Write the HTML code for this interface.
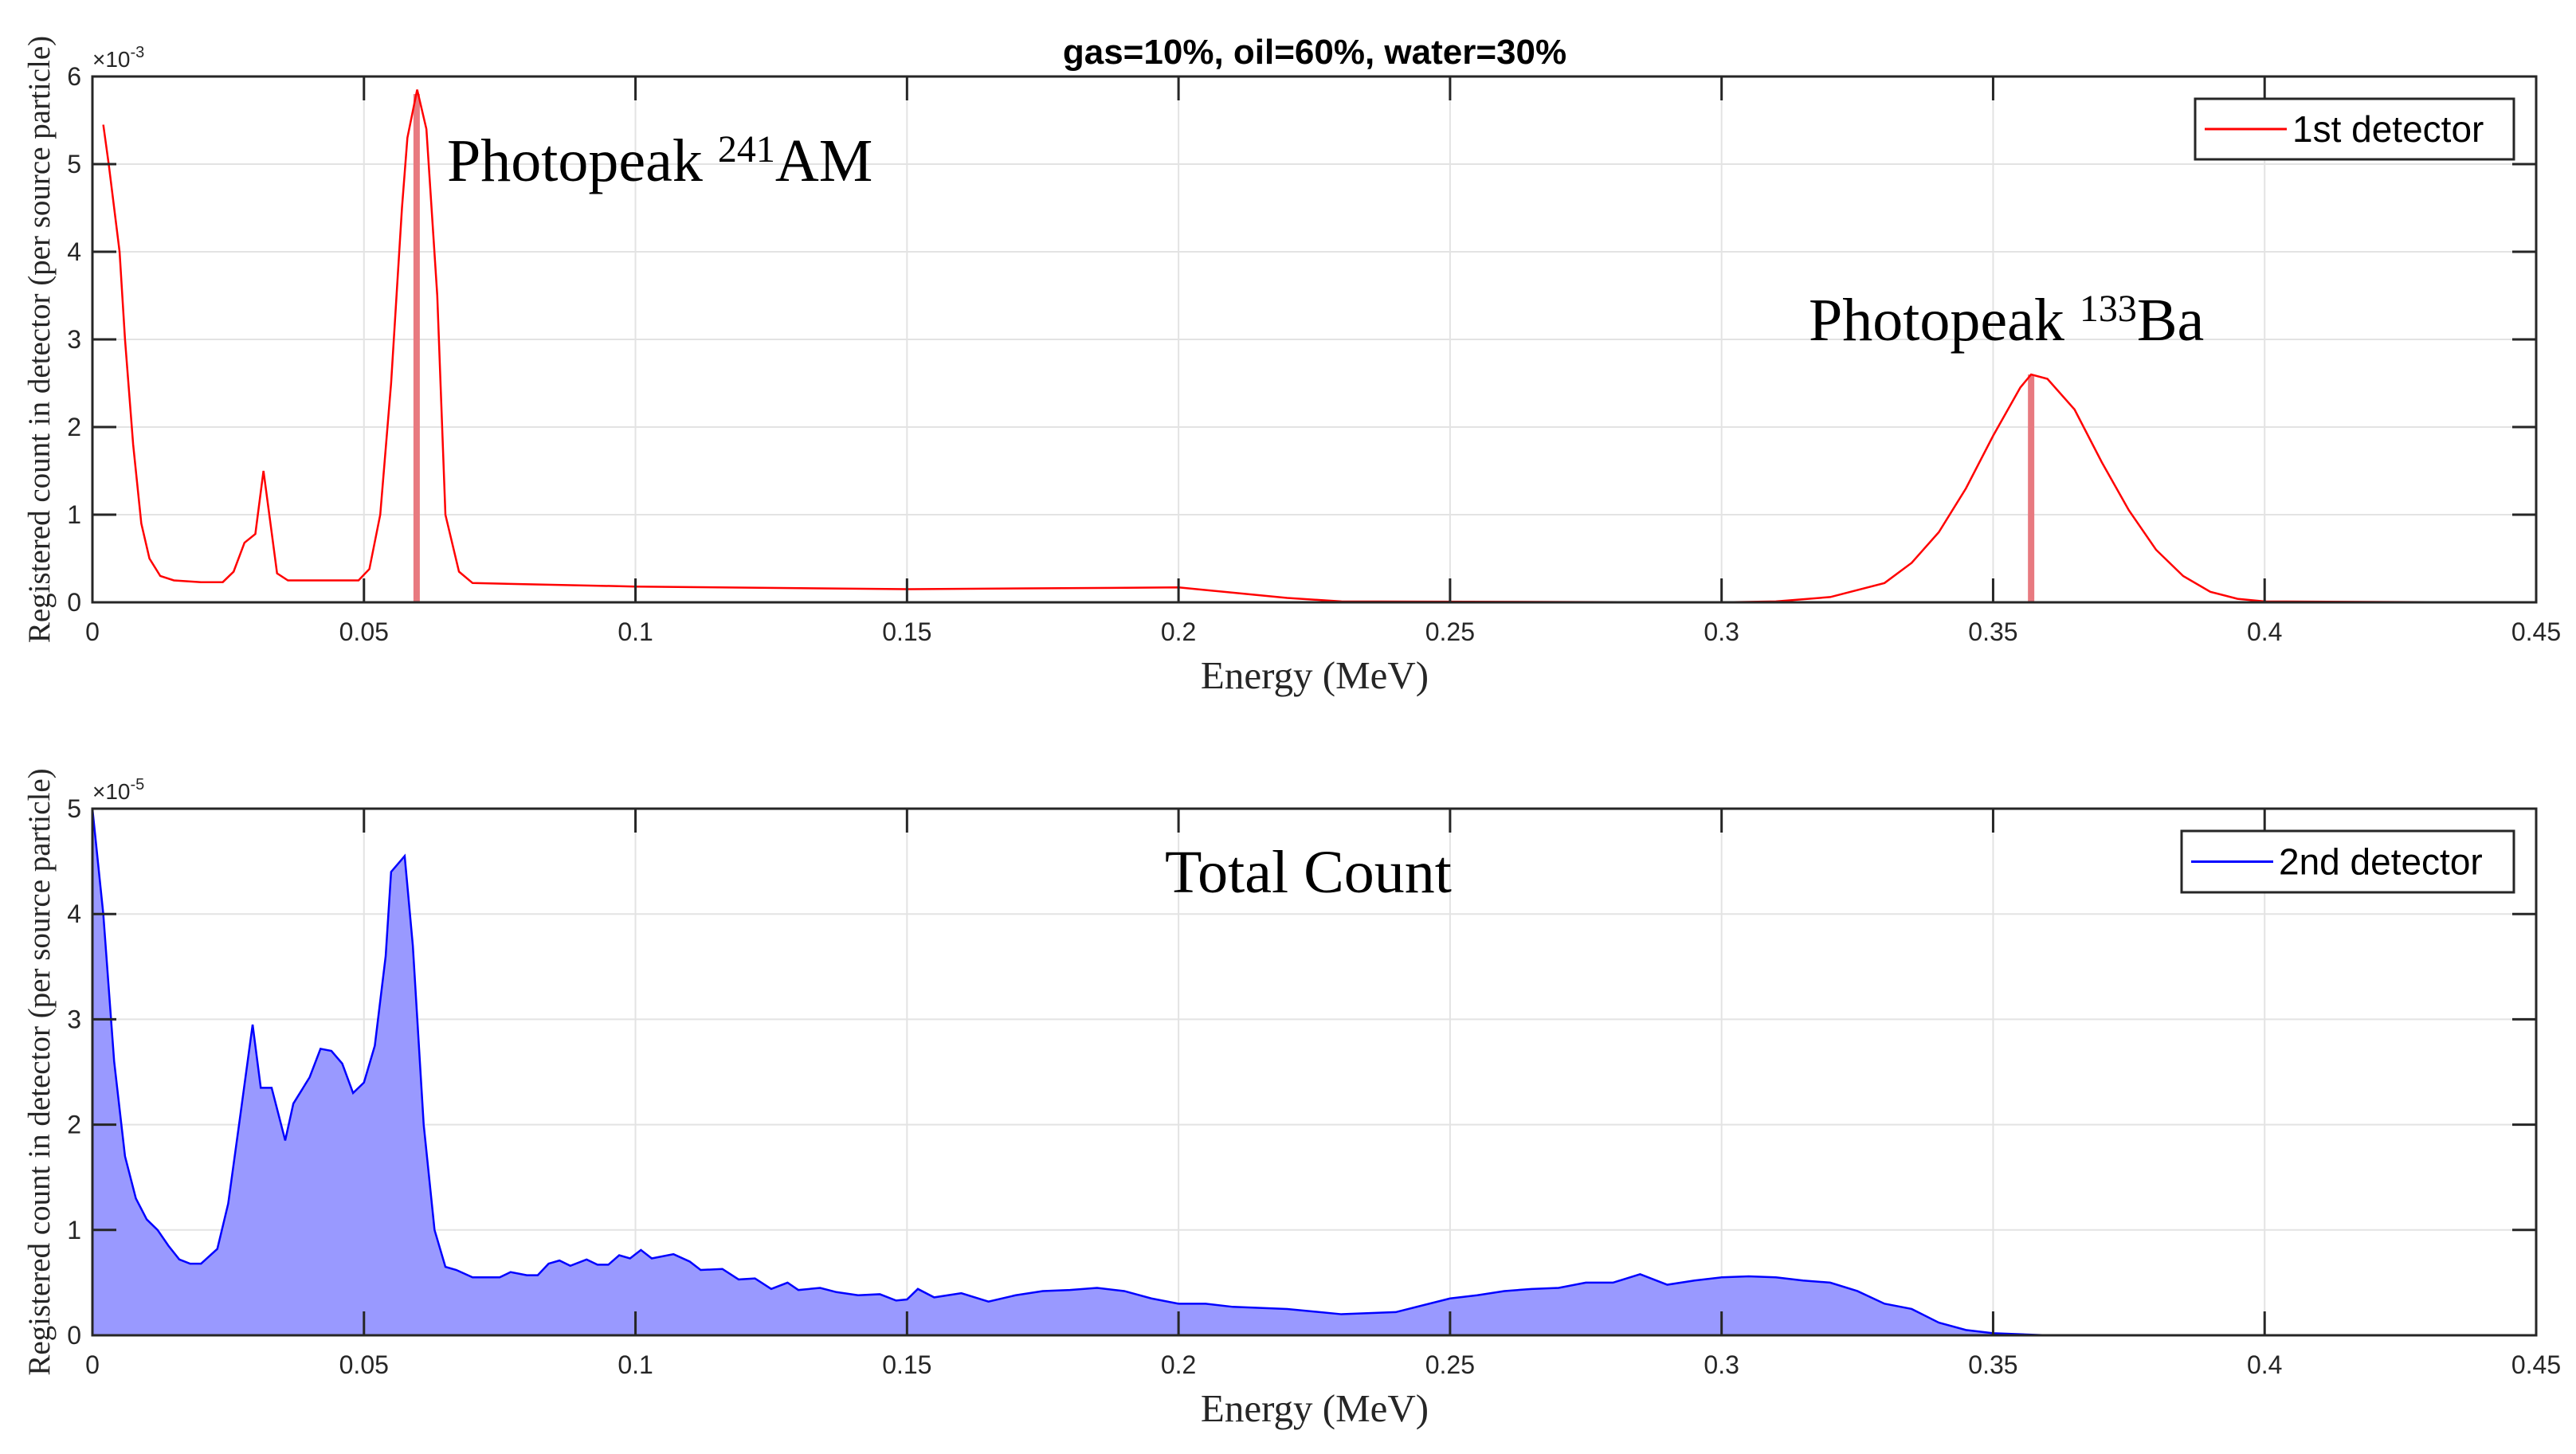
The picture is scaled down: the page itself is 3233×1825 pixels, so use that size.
<!DOCTYPE html>
<html><head><meta charset="utf-8"><style>
html,body{margin:0;padding:0;background:#fff;}
svg{display:block;}
</style></head><body>
<svg id="fig" width="3233" height="1825" viewBox="0 0 3233 1825" xmlns="http://www.w3.org/2000/svg">
<rect width="3233" height="1825" fill="#fff"/>
<text x="1650" y="80" text-anchor="middle" font-family="Liberation Sans, sans-serif" font-weight="bold" font-size="44" fill="#000">gas=10%, oil=60%, water=30%</text>
<g id="p1"></g><g id="p2"></g>
</svg>
<script>
const xTicks = [0,0.05,0.1,0.15,0.2,0.25,0.3,0.35,0.4,0.45];
const xTickLabels = ["0","0.05","0.1","0.15","0.2","0.25","0.3","0.35","0.4","0.45"];
const topYTicks = [0,1,2,3,4,5,6];
const botYTicks = [0,1,2,3,4,5];
const topEnergy = [0.002,0.003,0.005,0.006,0.0075,0.009,0.0105,0.0125,0.015,0.02,0.024,0.026,0.028,0.030,0.0315,0.033,0.034,0.036,0.045,0.049,0.051,0.053,0.055,0.057,0.058,0.0598,0.0615,0.0635,0.065,0.0675,0.070,0.1,0.15,0.2,0.22,0.23,0.3,0.31,0.32,0.33,0.335,0.34,0.345,0.35,0.355,0.357,0.36,0.365,0.37,0.375,0.38,0.385,0.39,0.395,0.4,0.44];
const topCount = [5.45,5.0,4.0,3.0,1.8,0.9,0.5,0.3,0.25,0.23,0.23,0.35,0.68,0.78,1.5,0.8,0.33,0.25,0.25,0.25,0.38,1.0,2.5,4.5,5.3,5.85,5.4,3.5,1.0,0.35,0.22,0.18,0.15,0.17,0.05,0.01,0.0,0.01,0.06,0.22,0.45,0.8,1.3,1.9,2.45,2.6,2.55,2.2,1.6,1.05,0.6,0.3,0.12,0.04,0.01,0.0];
const peakEnergy = [0.0597,0.357];
const peakHeight = [5.8,2.6];
const botEnergy = [0,0.002,0.004,0.006,0.008,0.010,0.012,0.014,0.016,0.018,0.020,0.023,0.025,0.027,0.0295,0.031,0.033,0.0355,0.037,0.040,0.042,0.044,0.046,0.048,0.050,0.052,0.054,0.055,0.0575,0.059,0.061,0.063,0.065,0.067,0.070,0.075,0.077,0.080,0.082,0.084,0.086,0.088,0.091,0.093,0.095,0.097,0.099,0.101,0.103,0.107,0.110,0.112,0.116,0.119,0.122,0.125,0.128,0.130,0.134,0.137,0.141,0.145,0.148,0.150,0.152,0.155,0.16,0.165,0.17,0.175,0.18,0.185,0.19,0.195,0.2,0.205,0.21,0.215,0.22,0.23,0.24,0.25,0.255,0.26,0.265,0.27,0.275,0.28,0.285,0.29,0.295,0.3,0.305,0.31,0.315,0.32,0.325,0.33,0.335,0.34,0.345,0.35,0.36,0.44];
const botCount = [5.0,4.0,2.6,1.7,1.3,1.1,1.0,0.85,0.72,0.68,0.68,0.82,1.25,2.0,2.95,2.35,2.35,1.85,2.2,2.45,2.72,2.7,2.58,2.3,2.4,2.75,3.6,4.4,4.55,3.7,2.0,1.0,0.65,0.62,0.55,0.55,0.6,0.57,0.57,0.68,0.71,0.66,0.72,0.67,0.67,0.76,0.73,0.81,0.73,0.77,0.7,0.62,0.63,0.53,0.54,0.44,0.5,0.43,0.45,0.41,0.38,0.39,0.33,0.34,0.44,0.36,0.4,0.32,0.38,0.42,0.43,0.45,0.42,0.35,0.3,0.3,0.27,0.26,0.25,0.2,0.22,0.35,0.38,0.42,0.44,0.45,0.5,0.5,0.58,0.48,0.52,0.55,0.56,0.55,0.52,0.5,0.42,0.3,0.25,0.12,0.05,0.02,0.0,0.0];

const NS='http://www.w3.org/2000/svg';
function mk(parent,tag,attrs,text){const e=document.createElementNS(NS,tag);for(const k in attrs)e.setAttribute(k,attrs[k]);if(text!==undefined)e.textContent=text;parent.appendChild(e);return e;}
const L=116,R=3183;
function xs(v){return L+(v/0.45)*(R-L);}

function axes(g,T,B,ymax,yticks){
  const ys=v=>B-(v/ymax)*(B-T);
  for(const t of xTicks){const l=mk(g,'line',{x1:xs(t),x2:xs(t),y1:T,y2:B,stroke:'#e3e3e3','stroke-width':2});
    
    }
  for(const t of yticks){const l=mk(g,'line',{x1:L,x2:R,y1:ys(t),y2:ys(t),stroke:'#e3e3e3','stroke-width':2});
    
    }
  return ys;
}
function frame(g,T,B,ymax,yticks,expo){
  const ys=v=>B-(v/ymax)*(B-T);
  const f=mk(g,'rect',{x:L,y:T,width:R-L,height:B-T,fill:'none',stroke:'#262626','stroke-width':3});
  
  
  xTicks.forEach((t,i)=>{
    mk(g,'line',{x1:xs(t),x2:xs(t),y1:B,y2:B-30,stroke:'#262626','stroke-width':3});
    mk(g,'line',{x1:xs(t),x2:xs(t),y1:T,y2:T+30,stroke:'#262626','stroke-width':3});
    const tx=mk(g,'text',{x:xs(t),y:B+48,'text-anchor':'middle','font-family':'Liberation Sans, sans-serif','font-size':32,fill:'#262626'},xTickLabels[i]);
    
    
  });
  yticks.forEach(t=>{
    mk(g,'line',{x1:L,x2:L+30,y1:ys(t),y2:ys(t),stroke:'#262626','stroke-width':3});
    mk(g,'line',{x1:R,x2:R-30,y1:ys(t),y2:ys(t),stroke:'#262626','stroke-width':3});
    const tx=mk(g,'text',{x:L-14,y:ys(t)+11,'text-anchor':'end','font-family':'Liberation Sans, sans-serif','font-size':32,fill:'#262626'},String(t));
    
    
  });
  const ex=mk(g,'text',{x:L,y:T-12,'font-family':'Liberation Sans, sans-serif','font-size':28,fill:'#262626'});
  
  
  mk(ex,'tspan',{},'\u00d710');mk(ex,'tspan',{dy:-12,'font-size':20},expo);
  const xl=mk(g,'text',{x:1650,y:B+108,'text-anchor':'middle','font-family':'Liberation Serif, serif','font-size':49,fill:'#262626'},'Energy (MeV)');
  
  
  const yl=mk(g,'text',{x:0,y:0,transform:`translate(62,${(T+B)/2}) rotate(-90)`,'text-anchor':'middle','font-family':'Liberation Serif, serif','font-size':39,fill:'#262626'},'Registered count in detector (per source particle)');
  
  
}
function legend(g,x,y,w,h,color,label){
  const lg=mk(g,'g',{});
  
  
  mk(lg,'rect',{x:x,y:y,width:w,height:h,fill:'#fff',stroke:'#262626','stroke-width':3});
  mk(lg,'line',{x1:x+12,x2:x+115,y1:y+h/2,y2:y+h/2,stroke:color,'stroke-width':3});
  const t=mk(lg,'text',{x:x+122,y:y+h/2+16,'font-family':'Liberation Sans, sans-serif','font-size':46,fill:'#000'},label);
  
  
}

// Top plot
const g1=document.getElementById('p1');
const T1=96,B1=756;
const ys1=axes(g1,T1,B1,6,topYTicks);
peakEnergy.forEach((e,i)=>{const l=mk(g1,'line',{x1:xs(e),x2:xs(e),y1:B1,y2:ys1(peakHeight[i]),stroke:'#e87a80','stroke-width':8});
  
  });
const pts1=topEnergy.map((e,i)=>xs(e)+','+ys1(topCount[i])).join(' ');
const line1=mk(g1,'polyline',{points:pts1,fill:'none',stroke:'#ff0000','stroke-width':2.5});


frame(g1,T1,B1,6,topYTicks,'-3');
legend(g1,2755,124,400,76,'#ff0000','1st detector');
const a1=mk(g1,'text',{x:561,y:227,'font-family':'Liberation Serif, serif','font-size':76,fill:'#000'});


mk(a1,'tspan',{},'Photopeak ');mk(a1,'tspan',{dy:-24,'font-size':48},'241');mk(a1,'tspan',{dy:24},'AM');
const a2=mk(g1,'text',{x:2270,y:427,'font-family':'Liberation Serif, serif','font-size':76,fill:'#000'});


mk(a2,'tspan',{},'Photopeak ');mk(a2,'tspan',{dy:-24,'font-size':48},'133');mk(a2,'tspan',{dy:24},'Ba');

// Bottom plot
const g2=document.getElementById('p2');
const T2=1015,B2=1676;
const ys2=axes(g2,T2,B2,5,botYTicks);
const pts2=botEnergy.map((e,i)=>xs(e)+','+ys2(botCount[i]));
const area=mk(g2,'polygon',{points:xs(botEnergy[0])+','+B2+' '+pts2.join(' ')+' '+xs(botEnergy[botEnergy.length-1])+','+B2,fill:'#9999ff',stroke:'none'});


const line2=mk(g2,'polyline',{points:pts2.join(' '),fill:'none',stroke:'#0000ff','stroke-width':2.5});


frame(g2,T2,B2,5,botYTicks,'-5');
legend(g2,2738,1043,417,77,'#0000ff','2nd detector');
const a3=mk(g2,'text',{x:1462,y:1120,'font-family':'Liberation Serif, serif','font-size':76,fill:'#000'},'Total Count');


</script>
</body></html>
